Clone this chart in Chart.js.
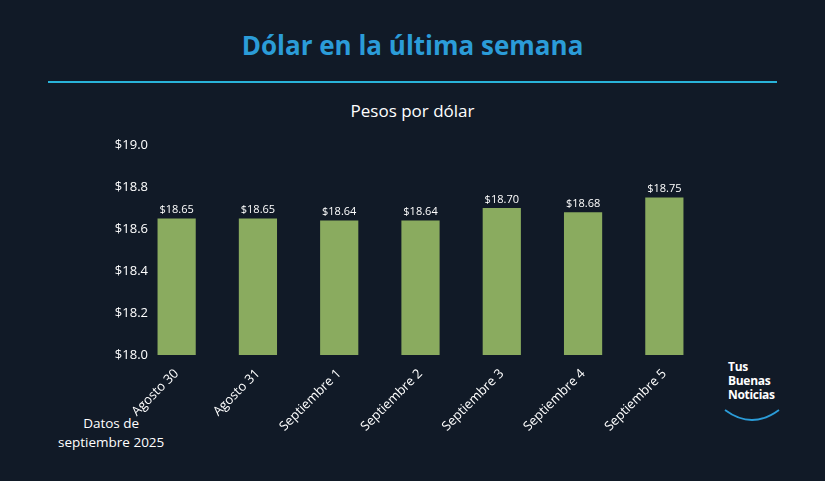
<!DOCTYPE html>
<html><head><meta charset="utf-8">
<script src="https://cdn.jsdelivr.net/npm/chart.js@4/dist/chart.umd.min.js"></script>
<style>
body{margin:0;background:#111a27;width:825px;height:481px;overflow:hidden;font-family:"Open Sans",sans-serif;position:relative}
#t{position:absolute;top:27px;left:0;width:825px;text-align:center;color:#2b9cd8;font:bold 26px "Open Sans",sans-serif}
#ln{position:absolute;top:81px;left:48px;width:729px;height:2px;background:#29b3d9}
#s{position:absolute;top:99px;left:0;width:825px;text-align:center;color:#fff;font-size:17px}
#n{position:absolute;top:414px;left:58px;color:#fff;font-size:13.5px;line-height:19px;text-align:center}
#logo{position:absolute;top:360px;left:728px;color:#fff;font:bold 12px "Open Sans",sans-serif;line-height:14px;letter-spacing:-0.3px}
canvas{position:absolute;left:0;top:0}
</style></head><body>
<div id="t">Dólar en la última semana</div><div id="ln"></div><div id="s">Pesos por dólar</div>
<div id="n">Datos de<br>septiembre 2025</div>
<div id="logo">Tus<br>Buenas<br>Noticias</div>
<svg style="position:absolute;left:722px;top:404px" width="60" height="24"><path d="M3 6 Q30 26 57 6" stroke="#2b9cd8" stroke-width="1.8" fill="none"/></svg>
<canvas id="c" width="825" height="481"></canvas>
<script>
const categories=["Agosto 30","Agosto 31","Septiembre 1","Septiembre 2","Septiembre 3","Septiembre 4","Septiembre 5"];
const values=[18.65,18.65,18.64,18.64,18.70,18.68,18.75];
const yTicks=[18.0,18.2,18.4,18.6,18.8,19.0];
const lbl={id:'lbl',afterDatasetsDraw(ch){const c=ch.ctx;c.save();c.fillStyle='#fff';c.font='11px "Open Sans"';c.textAlign='center';c.textBaseline='bottom';
ch.getDatasetMeta(0).data.forEach((b,i)=>c.fillText('$'+values[i].toFixed(2),b.x,b.y-3));
const y=ch.scales.y;c.font='13px "Open Sans"';c.textAlign='right';c.textBaseline='middle';
yTicks.forEach(v=>c.fillText('$'+v.toFixed(1),148,y.getPixelForValue(v)));c.restore();}};
new Chart(document.getElementById('c'),{type:'bar',data:{labels:categories,datasets:[{data:values,backgroundColor:'#8aab5f',barPercentage:0.47,categoryPercentage:1}]},
options:{responsive:false,animation:false,layout:{padding:{top:145,right:120,left:0,bottom:0}},plugins:{legend:{display:false},tooltip:{enabled:false}},
scales:{x:{grid:{display:false},border:{display:false},ticks:{color:'#fff',font:{size:13,family:'Open Sans'},maxRotation:45,minRotation:45},afterFit(a){a.height=126}},
y:{min:18,max:19,afterBuildTicks(a){a.ticks=yTicks.map(v=>({value:v}))},grid:{display:false},border:{display:false},ticks:{display:false},afterFit(a){a.width=136}}}},plugins:[lbl]});
</script></body></html>
